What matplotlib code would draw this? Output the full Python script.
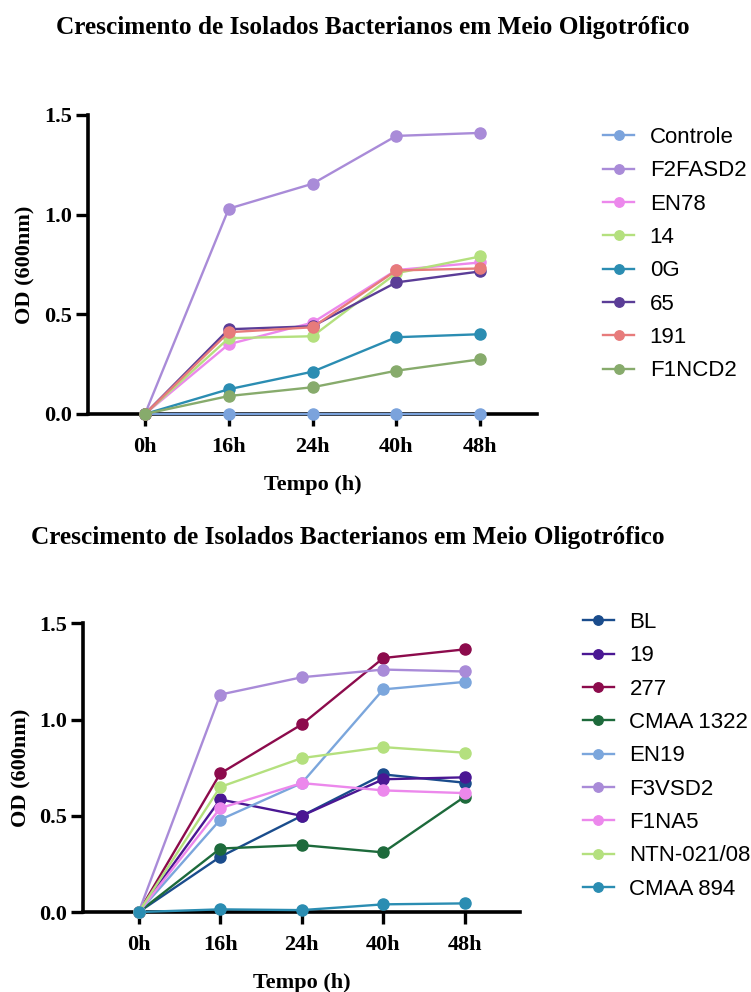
import matplotlib as mpl
mpl.use('Agg')
import matplotlib.pyplot as plt

tempos = ['0h', '16h', '24h', '40h', '48h']
titulo = 'Crescimento de Isolados Bacterianos em Meio Oligotrófico'

# primeiro ensaio
nomes1 = ['Controle', 'F2FASD2', 'EN78', '14', '0G', '65', '191', 'F1NCD2']
controle = [0.0, 0.0, 0.0, 0.0, 0.0]
f2fasd2 = [0.0, 1.03, 1.155, 1.395, 1.41]
en78 = [0.0, 0.35, 0.458, 0.722, 0.76]
iso14 = [0.0, 0.38, 0.39, 0.706, 0.79]
iso0g = [0.0, 0.124, 0.212, 0.385, 0.40]
iso65 = [0.0, 0.425, 0.44, 0.66, 0.715]
iso191 = [0.0, 0.41, 0.435, 0.72, 0.73]
f1ncd2 = [0.0, 0.09, 0.134, 0.217, 0.274]
cores1 = ['#7ba3dc', '#a98bd8', '#ec88ec', '#b4e07e', '#2b8db2',
          '#5b3d97', '#e77b7b', '#87ab6c']

# segundo ensaio
nomes2 = ['BL', '19', '277', 'CMAA 1322', 'EN19', 'F3VSD2', 'F1NA5',
          'NTN-021/08', 'CMAA 894']
bl = [0.0, 0.287, 0.50, 0.715, 0.672]
iso19 = [0.0, 0.585, 0.50, 0.69, 0.70]
iso277 = [0.0, 0.72, 0.975, 1.32, 1.365]
cmaa1322 = [0.0, 0.33, 0.348, 0.31, 0.60]
en19 = [0.0, 0.48, 0.67, 1.157, 1.196]
f3vsd2 = [0.0, 1.13, 1.22, 1.26, 1.25]
f1na5 = [0.0, 0.54, 0.67, 0.632, 0.618]
ntn = [0.0, 0.65, 0.80, 0.857, 0.828]
cmaa894 = [0.0, 0.014, 0.01, 0.04, 0.045]
cores2 = ['#1a4c8c', '#4a1793', '#8c0b4c', '#1d6a3b', '#7ba6dc',
          '#a98bd8', '#ec88ec', '#b4e07e', '#2b8db2']

serif = {'family': 'Liberation Serif', 'weight': 'bold'}

fig = plt.figure(figsize=(7.51, 9.92), dpi=100)
ax1 = fig.add_axes([0.1172, 0.5827, 0.5979, 0.3014])
ax2 = fig.add_axes([0.1109, 0.0806, 0.5819, 0.2910])


def grafico(ax, series, nomes, cores, anchor):
    x = range(len(tempos))
    for y, nome, cor in zip(series, nomes, cores):
        ax.plot(x, y, color=cor, marker='o', markersize=8, linewidth=1.7,
                label=nome, clip_on=False, zorder=3)
    ax.set_xlim(-0.68, 4.68)
    ax.set_ylim(0, 1.5)
    ax.set_yticks([0, 0.5, 1.0, 1.5])
    ax.set_yticklabels(['0.0', '0.5', '1.0', '1.5'])
    ax.set_xticks(list(x))
    ax.set_xticklabels(tempos)
    for s in ['top', 'right']:
        ax.spines[s].set_visible(False)
    for s in ['left', 'bottom']:
        ax.spines[s].set_linewidth(2.6)
    ax.tick_params(width=2.4, length=8.5, pad=3, labelsize=16)
    ax.tick_params(axis='x', pad=8)
    for lab in ax.get_xticklabels() + ax.get_yticklabels():
        lab.set_fontfamily('Liberation Serif')
        lab.set_fontweight('bold')
    ax.set_xlabel('Tempo (h)', fontsize=16, labelpad=13, **serif)
    ax.set_ylabel('OD (600nm)', fontsize=16, labelpad=6, **serif)
    ax.legend(loc='upper left', bbox_to_anchor=anchor,
              bbox_transform=fig.transFigure, frameon=False, borderpad=0,
              borderaxespad=0,
              prop={'family': 'Liberation Sans', 'size': 16},
              handlelength=1.4, handletextpad=0.7, labelspacing=0.555,
              markerscale=0.85)


grafico(ax1, [controle, f2fasd2, en78, iso14, iso0g, iso65, iso191, f1ncd2],
        nomes1, cores1, (0.803, 0.872))
grafico(ax2, [bl, iso19, iso277, cmaa1322, en19, f3vsd2, f1na5, ntn, cmaa894],
        nomes2, cores2, (0.776, 0.383))

fig.text(0.497, 0.972, titulo, ha='center', va='center', fontsize=18.2, **serif)
fig.text(0.463, 0.458, titulo, ha='center', va='center', fontsize=18.2, **serif)

fig.savefig('out.png', dpi=100)
